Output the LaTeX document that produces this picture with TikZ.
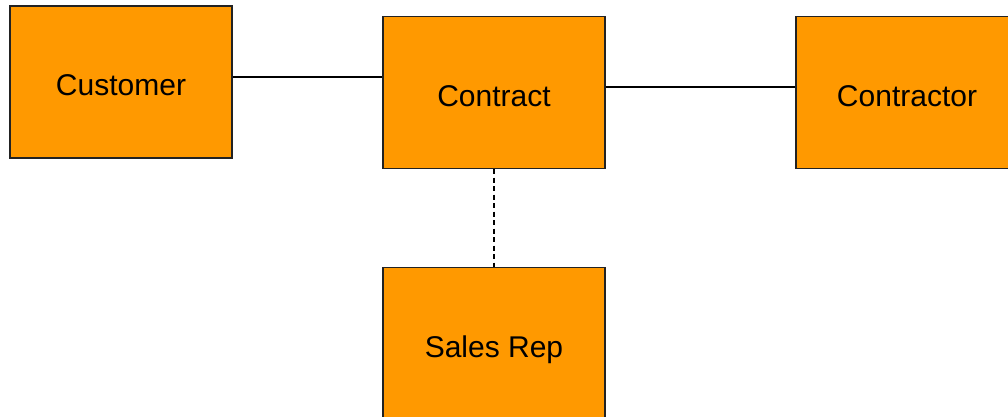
\documentclass[tikz,border=0pt]{standalone}
\usepackage{fontspec}
\setmainfont{Liberation Sans}
\definecolor{boxorange}{HTML}{FF9900}
\definecolor{boxedge}{HTML}{222222}
\begin{document}
\begin{tikzpicture}[x=1pt,y=-1pt,
  entity/.style={draw=boxedge, line width=1.4pt, fill=boxorange, minimum width=222pt, minimum height=152pt, inner sep=0pt, text height=27pt, text depth=0pt, font=\fontsize{30}{33}\selectfont},
  link/.style={line width=1.4pt, draw=black},
  dashlink/.style={line width=1.4pt, draw=black, dash pattern=on 5pt off 3.5pt}]
\useasboundingbox (0,0) rectangle (1008,416);
\clip (0,0) rectangle (1008,416);
\fill[white] (0,0) rectangle (1008,416);
\node[entity] (cust) at (121,82) {Customer};
\node[entity] (contract) at (494,92.5) {Contract};
\node[entity] (contractor) at (907,92.5) {Contractor};
\node[entity] (sales) at (494,343.5) {Sales Rep};
\draw[link] ([yshift=5pt]cust.east) -- ([yshift=15.5pt]contract.west);
\draw[link] ([yshift=5.5pt]contract.east) -- ([yshift=5.5pt]contractor.west);
\draw[dashlink] (contract.south) -- (sales.north);
\end{tikzpicture}
\end{document}
